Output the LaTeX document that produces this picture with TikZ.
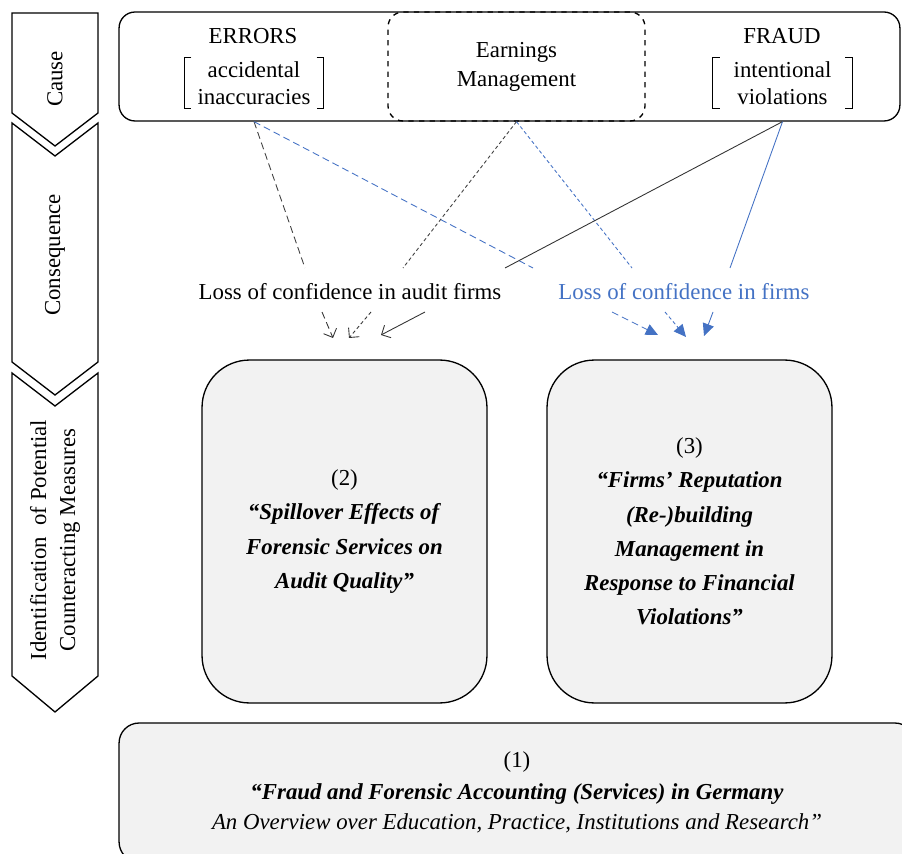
\documentclass[tikz,border=0pt]{standalone}
\usepackage{fontspec}
\setmainfont{Liberation Serif}
\usetikzlibrary{arrows.meta}
\definecolor{lossblue}{RGB}{68,114,196}
\definecolor{boxgray}{RGB}{242,242,242}
\def\bi#1{\textbf{\textit{#1}}}

\begin{document}
\begin{tikzpicture}[x=0.02cm,y=-0.02cm,line width=0.75pt,
		every node/.style={font=\fontsize{13}{16}\selectfont},
		>={Straight Barb[length=4pt,width=8pt]}]
	\tikzstyle{chevron}=[draw,fill=white,line join=miter]
	\tikzstyle{causebox}=[draw,rounded corners=0.32cm,minimum width=15.62cm,minimum height=2.18cm,inner sep=0pt]
	\tikzstyle{emgbox}=[draw,dashed,rounded corners=0.3cm,minimum width=5.14cm,minimum height=2.18cm,
		align=center,font=\fontsize{13}{16.5}\selectfont]
	\tikzstyle{bracketed}=[minimum width=2.76cm,minimum height=1cm,inner sep=0pt,align=center,
		font=\fontsize{13}{15.4}\selectfont]
	\tikzstyle{paper}=[draw,fill=boxgray,rounded corners=0.95cm,minimum width=5.7cm,minimum height=6.86cm,
		align=center,font=\fontsize{13}{19.5}\selectfont]
	\tikzstyle{paperwide}=[paper,rounded corners=0.4cm,minimum width=15.92cm,minimum height=2.78cm]
	\tikzstyle{thin}=[line width=0.5pt]
	\tikzstyle{dashline}=[thin,dash pattern=on 4pt off 2.3pt]
	\tikzstyle{dotline}=[thin,dash pattern=on 2pt off 1.5pt]
	\tikzstyle{bluetip}=[>={Triangle[length=7pt,width=6.5pt]}]

	\path[use as bounding box] (0,0) rectangle (902,854);
	\clip (0,0) rectangle (902,854);

	\draw[chevron] (12,13) -- (98,13) -- (98,113) -- (55,146) -- (12,113) -- cycle;
	\draw[chevron] (12,123) -- (55,156) -- (98,123) -- (98,362) -- (55,395) -- (12,362) -- cycle;
	\draw[chevron] (12,373) -- (55,406) -- (98,373) -- (98,676) -- (55,712) -- (12,676) -- cycle;
	\node[rotate=90] (stcause) at (55,79) {Cause};
	\node[rotate=90] (stcons) at (55,255) {Consequence};
	\node[rotate=90,align=center,font=\fontsize{13}{16.5}\selectfont] (stmeas) at (55,540)
		{Identification\ \ of Potential\\Counteracting Measures};

	\node[causebox] (cause) at (509.5,66.5) {};
	\node[emgbox] (emg) at (516.5,66.5) {Earnings\\Management};
	\node (errors) at (253,36) {ERRORS};
	\node[bracketed] (erracc) at (254,83) {accidental\\inaccuracies};
	\node (fraud) at (782,36) {FRAUD};
	\node[bracketed] (fraudint) at (782.5,83) {intentional\\violations};
	\foreach \b in {erracc,fraudint}{
		\draw[thin] (\b.north west) ++(7,0) -| (\b.south west) -- ++(7,0);
		\draw[thin] (\b.north east) ++(-7,0) -| (\b.south east) -- ++(-7,0);
	}

	\node (lossaudit) at (350,292) {Loss of confidence in audit firms};
	\node[text=lossblue] (lossfirms) at (684,292) {Loss of confidence in firms};
	\coordinate (a1) at (305,268);
	\coordinate (a2) at (403,268);
	\coordinate (a3) at (505,268);
	\coordinate (f1) at (533,268);
	\coordinate (f2) at (632,268);
	\coordinate (f3) at (730,268);

	\path
	(erracc.south |- cause.south) edge [dashline,black!75] (a1)
	(erracc.south |- cause.south) edge [dashline,lossblue] (f1)
	(emg.south) edge [dotline,black!75] (a2)
	(emg.south) edge [dotline,lossblue] (f2)
	(fraudint.south |- cause.south) edge [thin,black!80] (a3)
	(fraudint.south |- cause.south) edge [thin,lossblue] (f3);

	\coordinate (sa1) at (322,312);
	\coordinate (ta1) at (333,338);
	\coordinate (sa2) at (371,312);
	\coordinate (ta2) at (349,338);
	\coordinate (sa3) at (425,312);
	\coordinate (ta3) at (381,335);
	\coordinate (sf1) at (612,312);
	\coordinate (tf1) at (658,335);
	\coordinate (sf2) at (665,312);
	\coordinate (tf2) at (686,337);
	\coordinate (sf3) at (713,312);
	\coordinate (tf3) at (704,336);

	\path[->]
	(sa1) edge [dashline,black!80] (ta1)
	(sa2) edge [dotline,black!80] (ta2)
	(sa3) edge [thin,black!80] (ta3);
	\path[->,bluetip]
	(sf1) edge [dashline,lossblue] (tf1)
	(sf2) edge [dotline,lossblue] (tf2)
	(sf3) edge [thin,lossblue] (tf3);

	\node[paper] (spill) at (344.5,531.5)
		{(2)\\\bi{``Spillover Effects of}\\\bi{Forensic Services on}\\\bi{Audit Quality''}};
	\node[paper] (repute) at (689.5,531.5)
		{(3)\\\bi{``Firms' Reputation}\\\bi{(Re-)building}\\\bi{Management in}\\\bi{Response to Financial}\\\bi{Violations''}};
	\node[paperwide,font=\fontsize{13}{17}\selectfont] (overview) at (517,792.5)
		{(1)\\[1pt]\bi{``Fraud and Forensic Accounting (Services) in Germany}\\
		\textit{An Overview over Education, Practice, Institutions and Research''}};
\end{tikzpicture}
\end{document}
